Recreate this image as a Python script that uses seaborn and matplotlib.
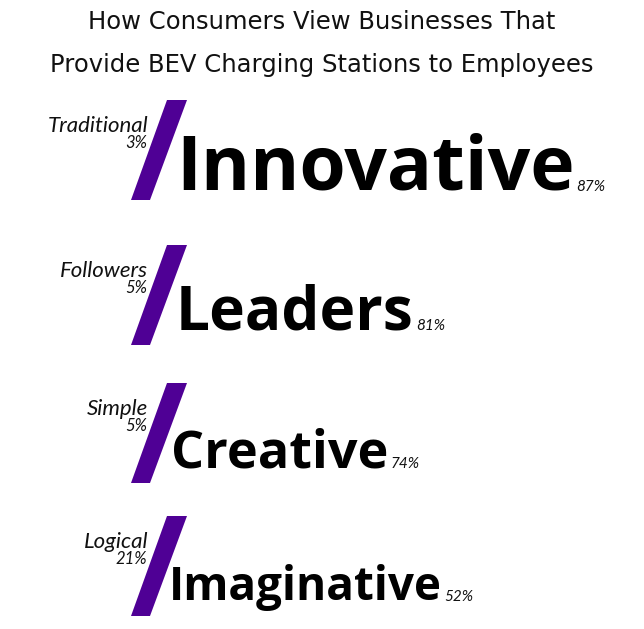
import matplotlib
matplotlib.use("Agg")
import matplotlib.pyplot as plt
import seaborn as sns

# data: the word consumers picked over its opposite
winners = ["Innovative", "Leaders", "Creative", "Imaginative"]
winner_pct = [87, 81, 74, 52]
losers = ["Traditional", "Followers", "Simple", "Logical"]
loser_pct = [3, 5, 5, 21]

title_lines = ["How Consumers View Businesses That",
               "Provide BEV Charging Stations to Employees"]

# layout (pixel space of a 644x629 canvas)
row_top = [100, 245, 383, 516]
word_size = [54, 43.5, 37.5, 33]
word_x = [176, 176, 171, 169]
purple = "#4f0095"

sns.set_style("white")
plt.rcParams["font.family"] = ["Open Sans", "DejaVu Sans"]
small = ["Lato", "DejaVu Sans"]

fig = plt.figure(figsize=(6.44, 6.29), dpi=100)
ax = fig.add_axes([0, 0, 1, 1])
ax.set_xlim(0, 644)
ax.set_ylim(629, 0)
ax.axis("off")

for k, line in enumerate(title_lines):
    ax.text(322, 29 + 43 * k, line, ha="center", va="baseline",
            fontsize=17.5, family=["DejaVu Sans"], color="#111111")

for i in range(len(winners)):
    top = row_top[i]
    bot = top + 100
    # the slash
    ax.fill([131, 150, 187, 167], [bot, bot, top, top], color=purple, lw=0)

    # the loser, small and to the left
    ax.text(148, top + 32, losers[i], ha="right", va="baseline", family=small,
            fontsize=16, fontstyle="italic", color="#111111")
    ax.text(147, top + 48, f"{loser_pct[i]}%", ha="right", va="baseline",
            family=small, fontsize=12, fontstyle="italic", color="#111111")

    # the winner, big and to the right
    base = top + 90 if i == 0 else top + 84
    t = ax.text(word_x[i], base, winners[i], ha="left", va="baseline",
                fontsize=word_size[i], fontweight="bold", color="black")
    fig.canvas.draw()
    bb = t.get_window_extent()
    ax.text(bb.x1 + 2, base + 1, f"{winner_pct[i]}%", ha="left", va="baseline",
            family=small, fontsize=11, fontstyle="italic", color="#111111")

fig.savefig("out.png", dpi=100)
